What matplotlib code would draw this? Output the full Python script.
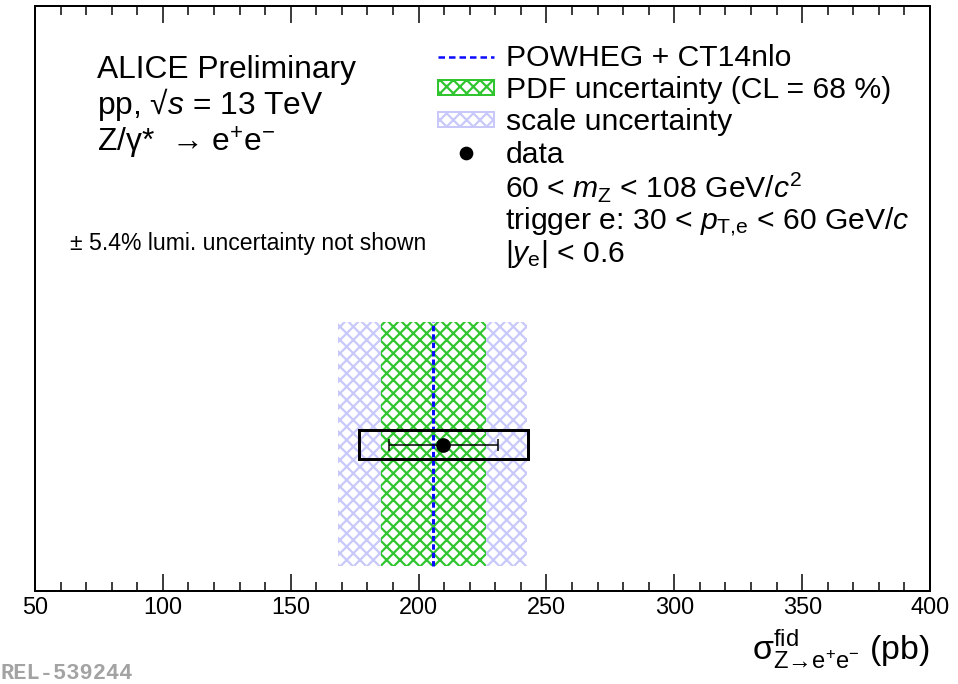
import numpy as np
import matplotlib
matplotlib.use('Agg')
import matplotlib.pyplot as plt
from matplotlib.lines import Line2D
from matplotlib.patches import Patch, Rectangle
from matplotlib.ticker import MultipleLocator

DPI = 120
W, H = 958, 684


def px(v):
    # pixels -> points at the chosen dpi
    return v * 72.0 / DPI


# ---- data (pb) ----
theory_central = 205.6
pdf_band = [185.2, 226.3]
scale_band = [168.5, 242.5]
data_value = 209.7
stat_err = 21.3
syst_err = 33.0

# ---- layout (arbitrary y axis) ----
band_y = [0.043, 0.459]
data_y = 0.25
box_half = 0.025

green = '#2fc52f'
lavender = '#c8c8fa'
blue = '#0a0aff'

plt.rcParams['font.family'] = ['Liberation Sans', 'DejaVu Sans']
plt.rcParams['mathtext.fontset'] = 'custom'
plt.rcParams['mathtext.rm'] = 'Liberation Sans'
plt.rcParams['mathtext.it'] = 'Liberation Sans:italic'
plt.rcParams['mathtext.bf'] = 'Liberation Sans:bold'
plt.rcParams['mathtext.sf'] = 'Liberation Sans'
plt.rcParams['hatch.linewidth'] = px(2.2)

fig = plt.figure(figsize=(W / DPI, H / DPI), dpi=DPI)
ax = fig.add_axes([35 / W, 93 / H, 895 / W, 585 / H])

# theory bands
ax.fill_betweenx(band_y, scale_band[0], scale_band[1], facecolor='white',
                 edgecolor=lavender, hatch='xxx', linewidth=0, zorder=1)
ax.fill_betweenx(band_y, pdf_band[0], pdf_band[1], facecolor='white',
                 edgecolor=green, hatch='xxx', linewidth=0, zorder=2)
ax.plot([theory_central, theory_central], band_y, color=blue, lw=px(3),
        linestyle=(0, (1.8, 1.0)), zorder=3)

# data: syst box + stat error
ax.add_patch(Rectangle((data_value - syst_err, data_y - box_half), 2 * syst_err,
                       2 * box_half, fill=False, ec='black', lw=px(3), zorder=4))
ax.errorbar([data_value], [data_y], xerr=[stat_err], fmt='o', color='black',
            ms=px(13), elinewidth=px(1.5), capsize=px(6), capthick=px(1.5), zorder=5)

ax.set_xlim(50, 400)
ax.set_ylim(0, 1)
ax.set_xticks(np.arange(50, 401, 50))
ax.xaxis.set_minor_locator(MultipleLocator(10))
ax.set_yticks([])
ax.tick_params(axis='x', which='both', direction='in', top=True, bottom=True,
               width=px(1.5), labelsize=px(23.5), pad=px(5))
ax.tick_params(axis='x', which='major', length=px(17))
ax.tick_params(axis='x', which='minor', length=px(9))
for s in ax.spines.values():
    s.set_linewidth(px(2))

# legend
handles = [
    Line2D([], [], color=blue, lw=px(2.5), linestyle=(0, (2.6, 1.6))),
    Patch(facecolor='white', edgecolor=green, hatch='xxx', lw=px(2)),
    Patch(facecolor='white', edgecolor=lavender, hatch='xxx', lw=px(2)),
    Line2D([], [], ls='none', marker='o', color='black', ms=px(12)),
]
labels = ['POWHEG + CT14nlo', 'PDF uncertainty (CL = 68 %)', 'scale uncertainty', 'data']
fs_leg = 30.2
fig.legend(handles, labels, loc='upper left', bbox_to_anchor=(438 / W, 1 - 44 / H),
           bbox_transform=fig.transFigure, frameon=False, fontsize=px(fs_leg),
           borderpad=0, borderaxespad=0, handlelength=56 / fs_leg,
           handleheight=0.4, handletextpad=12 / fs_leg, labelspacing=0.14)

cuts = [r'60 < $m_{\mathrm{Z}}$ < 108 GeV/$c^{2}$',
        r'trigger e: 30 < $p_{\mathrm{T}{,}\mathrm{e}}$ < 60 GeV/$c$',
        r'|$y_{\mathrm{e}}$| < 0.6']
for txt, yb in zip(cuts, [197, 229, 262]):
    fig.text(505 / W, 1 - yb / H, txt, fontsize=px(fs_leg), va='baseline')

# header
fs_head = 31.8
for txt, yb in zip(['ALICE Preliminary', r'pp, √$s$ = 13 TeV',
                    r'Z/γ*  → e$^{+}$e$^{-}$'], [78, 114, 152]):
    fig.text(97 / W, 1 - yb / H, txt, fontsize=px(fs_head), va='baseline')

fig.text(70 / W, 1 - 250 / H, '± 5.4% lumi. uncertainty not shown',
         fontsize=px(23), va='baseline')

# x title
fig.text(930 / W, 1 - 660 / H,
         r'$\mathrm{\sigma}^{\mathrm{fid}}_{\mathrm{Z→e}^{+}\mathrm{e}^{-}}$ (pb)',
         fontsize=px(34), ha='right', va='baseline')

fig.text(0, 1 - 679 / H, 'REL-539244', family='Liberation Mono', weight='bold',
         color='#a3a3a3', fontsize=px(22), va='baseline')

fig.savefig('out.png', dpi=DPI)
